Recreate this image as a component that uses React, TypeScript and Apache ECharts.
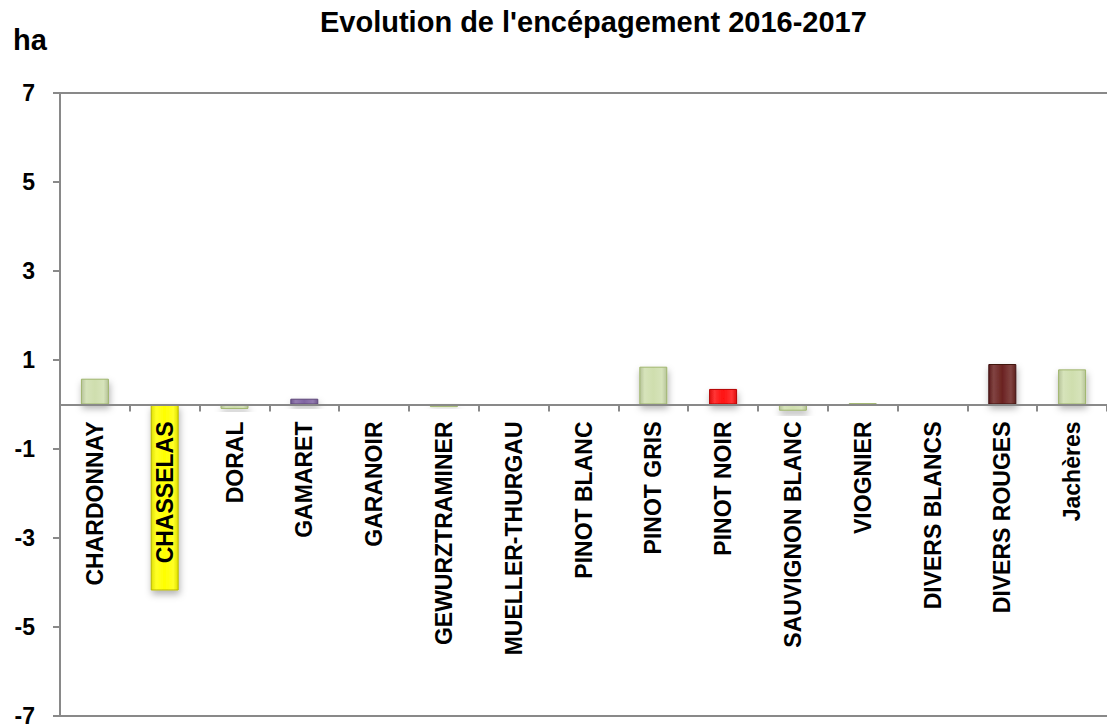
import React, { useEffect, useRef } from "react";
import * as echarts from "echarts";

const chartTitle = "Evolution de l'encépagement 2016-2017";
const unitLabel = "ha";
const categories = [
  "CHARDONNAY",
  "CHASSELAS",
  "DORAL",
  "GAMARET",
  "GARANOIR",
  "GEWURZTRAMINER",
  "MUELLER-THURGAU",
  "PINOT BLANC",
  "PINOT GRIS",
  "PINOT NOIR",
  "SAUVIGNON BLANC",
  "VIOGNIER",
  "DIVERS BLANCS",
  "DIVERS ROUGES",
  "Jachères",
];
const values = [0.58, -4.18, -0.1, 0.13, -0.02, -0.06, -0.02, 0, 0.85, 0.35, -0.14, 0.03, 0, 0.91, 0.79];
const barColors = [
  "#cfdeae", "#ffff00", "#cfdeae", "#8064a2", "#cfdeae", "#cfdeae", "#cfdeae", "#cfdeae",
  "#cfdeae", "#ff1010", "#cfdeae", "#cfdeae", "#cfdeae", "#6b2321", "#cfdeae",
];
const barBorders = [
  "#9fb56d", "#b5b500", "#9fb56d", "#5c4678", "#9fb56d", "#9fb56d", "#9fb56d", "#9fb56d",
  "#9fb56d", "#b30000", "#9fb56d", "#9fb56d", "#9fb56d", "#3f1211", "#9fb56d",
];
const yTicks = [-7, -5, -3, -1, 1, 3, 5, 7];
const yMin = -7;
const yMax = 7;

const FONT = "'Liberation Sans', Arial, sans-serif";

const GRID_TOP = 93;
const GRID_BOTTOM = 10;
const CHART_H = 726;

function shade(hex: string, f: number): string {
  const n = parseInt(hex.slice(1), 16);
  let r = (n >> 16) & 255, g = (n >> 8) & 255, b = n & 255;
  if (f >= 0) {
    r = Math.round(r + (255 - r) * f); g = Math.round(g + (255 - g) * f); b = Math.round(b + (255 - b) * f);
  } else {
    r = Math.round(r * (1 + f)); g = Math.round(g * (1 + f)); b = Math.round(b * (1 + f));
  }
  return `rgb(${r},${g},${b})`;
}

export default function App() {
  const ref = useRef<HTMLDivElement>(null);
  useEffect(() => {
    if (!ref.current) return;
    const chart = echarts.init(ref.current, null, { renderer: "svg" });
    const plotH = CHART_H - GRID_TOP - GRID_BOTTOM;
    // distance from the grid bottom up to the zero value of the y scale
    const zeroOffset = -(plotH * (0 - yMin)) / (yMax - yMin);
    const data = values.map((v, i) => ({
      value: v,
      itemStyle: {
        color: new echarts.graphic.LinearGradient(0, 0, 1, 0, [
          { offset: 0, color: shade(barColors[i], -0.12) },
          { offset: 0.18, color: shade(barColors[i], 0.15) },
          { offset: 0.5, color: barColors[i] },
          { offset: 0.82, color: shade(barColors[i], 0.15) },
          { offset: 1, color: shade(barColors[i], -0.12) },
        ]),
        borderColor: barBorders[i],
        borderWidth: 1,
        shadowBlur: 7,
        shadowOffsetY: 4,
        shadowOffsetX: 1,
        shadowColor: "rgba(0,0,0,0.3)",
      },
    }));
    chart.setOption({
      animation: false,
      backgroundColor: "#ffffff",
      title: [
        {
          text: chartTitle,
          left: 315,
          top: 2,
          textStyle: { fontFamily: FONT, fontWeight: "bold", fontSize: 29, color: "#000" },
        },
        {
          text: unitLabel,
          left: 8,
          top: 20,
          textStyle: { fontFamily: FONT, fontWeight: "bold", fontSize: 29, color: "#000" },
        },
      ],
      grid: { left: 60, right: 0, top: GRID_TOP, bottom: GRID_BOTTOM, containLabel: false, outerBoundsMode: "none" },
      xAxis: {
        type: "category",
        data: categories,
        z: 10,
        position: "bottom",
        offset: zeroOffset,
        boundaryGap: true,
        axisLine: { onZero: false, lineStyle: { color: "#898989", width: 2 } },
        axisTick: { show: true, length: 7, lineStyle: { color: "#898989", width: 2 } },
        axisLabel: {
          rotate: 90,
          margin: 17,
          interval: 0,
          fontFamily: FONT,
          fontWeight: "bold",
          fontSize: 23,
          color: "#000",
        },
        splitLine: { show: false },
      },
      yAxis: {
        type: "value",
        min: yMin,
        max: yMax,
        interval: 1,
        axisLine: { show: true, lineStyle: { color: "#898989", width: 2 } },
        axisTick: { show: true, length: 7, customValues: yTicks, lineStyle: { color: "#898989", width: 2 } },
        axisLabel: {
          customValues: yTicks,
          margin: 25,
          fontFamily: FONT,
          fontWeight: "bold",
          fontSize: 23,
          lineHeight: 18,
          color: "#000",
        },
        splitLine: { show: false },
      },
      series: [
        {
          type: "bar",
          data,
          barWidth: 28,
          markLine: {
            silent: true,
            symbol: "none",
            label: { show: false },
            lineStyle: { color: "#898989", width: 2, type: "solid" },
            data: [{ yAxis: yMax }, { yAxis: yMin }],
          },
        },
      ],
    });
    return () => chart.dispose();
  }, []);
  return (
    <div
      ref={ref}
      style={{ position: "fixed", left: 0, top: 0, width: 1107, height: 726, background: "#fff" }}
    />
  );
}
